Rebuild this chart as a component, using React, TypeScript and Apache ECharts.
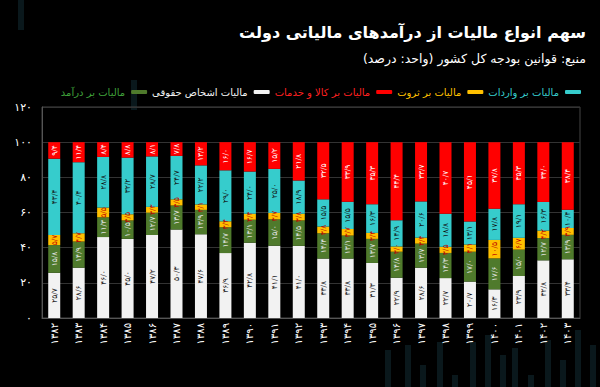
import React, { useEffect, useRef } from 'react';
import * as echarts from 'echarts';

const years = ['۱۳۸۲','۱۳۸۳','۱۳۸۴','۱۳۸۵','۱۳۸۶','۱۳۸۷','۱۳۸۸','۱۳۸۹','۱۳۹۰','۱۳۹۱','۱۳۹۲','۱۳۹۳','۱۳۹۴','۱۳۹۵','۱۳۹۶','۱۳۹۷','۱۳۹۸','۱۳۹۹','۱۴۰۰','۱۴۰۱','۱۴۰۲','۱۴۰۳'];

const legalPersons = [25.7, 28.6, 46.0, 45.0, 47.2, 50.3, 47.6, 36.9, 42.8, 41.1, 41.0, 33.8, 33.8, 31.3, 22.9, 28.6, 22.7, 20.7, 16.3, 23.9, 32.8, 33.4];
const incomeTax = [15.8, 14.9, 11.3, 10.5, 12.7, 13.7, 13.9, 14.7, 13.1, 15.0, 14.5, 14.4, 13.1, 13.7, 14.8, 13.7, 14.3, 17.0, 17.6, 15.0, 12.7, 13.9];
const wealthTax = [5.7, 4.7, 5.5, 3.5, 3.3, 3.5, 3.1, 3.4, 3.4, 3.7, 3.8, 3.8, 3.7, 3.4, 3.0, 3.4, 3.5, 4.1, 10.5, 6.7, 4.2, 3.9];
const importTax = [43.4, 40.4, 28.8, 32.2, 28.7, 24.7, 22.2, 29.0, 24.0, 25.0, 18.9, 15.5, 15.5, 16.3, 14.9, 20.6, 18.8, 13.1, 17.8, 19.1, 16.3, 10.4];
const goodsTax = [9.4, 11.4, 8.4, 8.8, 8.1, 7.8, 13.2, 16.0, 16.7, 15.2, 21.8, 32.5, 33.9, 35.3, 44.4, 33.7, 40.7, 45.1, 37.8, 35.3, 34.0, 38.4];

const yTicks = [0, 20, 40, 60, 80, 100, 120];

const FONT = 'DejaVu Sans';
const faDigits = '۰۱۲۳۴۵۶۷۸۹';
const toFa = (s: string) => s.replace(/\d/g, (d) => faDigits[+d]).replace('.', '/');

const seriesDefs = [
  { name: 'مالیات اشخاص حقوقی', data: legalPersons, color: '#f2f2f2', label: '#111' },
  { name: 'مالیات بر درآمد', data: incomeTax, color: '#4f7a2c', label: '#e8e8e8', legendColor: '#3fa13a' },
  { name: 'مالیات بر ثروت', data: wealthTax, color: '#ffc000', label: '#c00000' },
  { name: 'مالیات بر واردات', data: importTax, color: '#36cccc', label: '#111' },
  { name: 'مالیات بر کالا و خدمات', data: goodsTax, color: '#ff0000', label: '#fff', legendColor: '#ff2020' },
];

const legendOrder = ['مالیات بر درآمد', 'مالیات اشخاص حقوقی', 'مالیات بر کالا و خدمات', 'مالیات بر ثروت', 'مالیات بر واردات'];

const decoBars = [
  [385, 350], [405, 345], [420, 365], [437, 342], [452, 375], [470, 342], [485, 335], [500, 355],
  [512, 348], [528, 375], [545, 340], [560, 360], [575, 330], [590, 345],
];

export default function App() {
  const ref = useRef<HTMLDivElement>(null);
  useEffect(() => {
    document.body.style.margin = '0';
    document.body.style.background = '#000';
    const chart = echarts.init(ref.current!, undefined, { renderer: 'svg' });
    const series = seriesDefs.map((s) => ({
      name: s.name,
      type: 'bar',
      stack: 'total',
      data: s.data,
      barWidth: 12,
      itemStyle: { color: s.color },
      label: {
        show: true,
        position: 'inside',
        rotate: 90,
        fontSize: 7.5,
        fontFamily: FONT,
        color: s.label,
        formatter: (p: any) => toFa(Number(p.value).toFixed(1)),
      },
    }));
    chart.setOption({
      animation: false,
      backgroundColor: '#000',
      textStyle: { fontFamily: FONT },
      graphic: [
        ...decoBars.map(([x, y]) => ({
          type: 'rect',
          z: -10,
          silent: true,
          shape: { x, y, width: 6, height: 387 - y },
          style: { fill: 'rgba(30,70,80,0.35)' },
        })),
        { type: 'rect', z: -10, silent: true, shape: { x: 18, y: 0, width: 6, height: 30 }, style: { fill: 'rgba(30,70,80,0.35)' } },
        { type: 'rect', z: -10, silent: true, shape: { x: 131, y: 80, width: 6, height: 30 }, style: { fill: 'rgba(30,70,80,0.35)' } },
        {
          type: 'text',
          right: 14,
          top: 24,
          style: { text: 'سهم انواع مالیات از درآمدهای مالیاتی دولت', fill: '#fff', font: `bold 16px "${FONT}"`, textAlign: 'right' },
        },
        {
          type: 'text',
          right: 14,
          top: 52,
          style: { text: 'منبع: قوانین بودجه کل کشور (واحد: درصد)', fill: '#fff', font: `12.5px "${FONT}"`, textAlign: 'right' },
        },
      ],
      legend: {
        right: 14,
        top: 82,
        align: 'right',
        icon: 'roundRect',
        itemWidth: 16,
        itemHeight: 4,
        itemGap: 5,
        data: legendOrder.map((n) => {
          const d = seriesDefs.find((s) => s.name === n)!;
          return { name: n, textStyle: { color: (d as any).legendColor || d.color } };
        }),
        textStyle: { fontFamily: FONT, fontSize: 10, padding: [0, 1, 0, 1] },
      },
      grid: { left: 42, right: 20, top: 107, bottom: 69, show: true, borderColor: '#444', borderWidth: 1 },
      xAxis: {
        type: 'category',
        data: years,
        axisLine: { lineStyle: { color: '#555' } },
        axisTick: { show: false },
        axisLabel: { rotate: 90, color: '#fff', fontSize: 10, fontFamily: FONT, margin: 5, interval: 0 },
      },
      yAxis: {
        type: 'value',
        min: yTicks[0],
        max: yTicks[yTicks.length - 1],
        interval: 20,
        axisLine: { show: true, lineStyle: { color: '#555' } },
        axisTick: { show: false },
        splitLine: { lineStyle: { color: '#333' } },
        axisLabel: { color: '#fff', fontSize: 11, fontFamily: FONT, margin: 10, formatter: (v: number) => toFa(String(v)) },
      },
      series,
    });
    return () => chart.dispose();
  }, []);
  return <div ref={ref} style={{ position: 'absolute', left: 0, top: 0, width: 600, height: 387, background: '#000' }} />;
}
